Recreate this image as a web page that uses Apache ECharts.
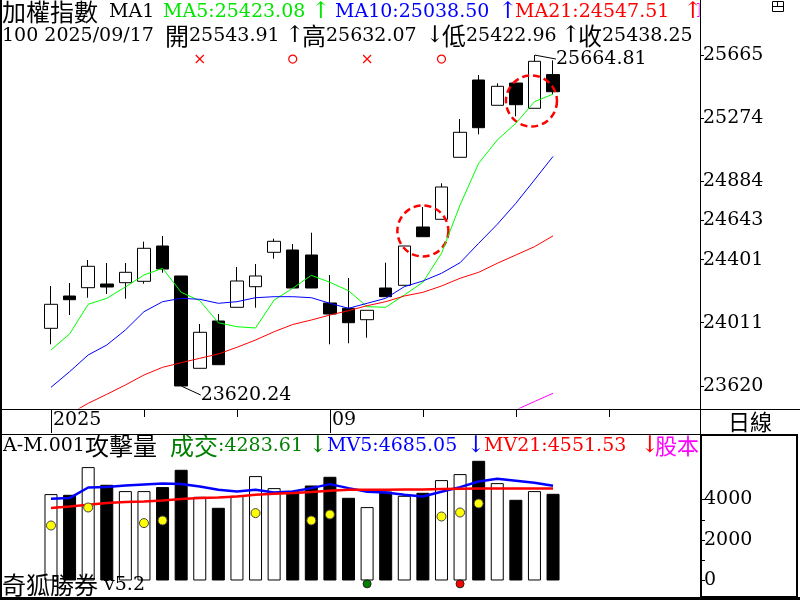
<!DOCTYPE html>
<html>
<head>
<meta charset="utf-8">
<title>加權指數 日線</title>
<script src="https://cdn.jsdelivr.net/npm/echarts@6/dist/echarts.min.js"></script>
<style>
html, body { margin: 0; padding: 0; background: #fff; }
#chart { width: 800px; height: 600px; }
</style>
</head>
<body>
<div id="chart"></div>
<script>
// trading days shown, plus empty slots to the right
const dates = ['2025/08/11','2025/08/12','2025/08/13','2025/08/14','2025/08/15','2025/08/18','2025/08/19',
  '2025/08/20','2025/08/21','2025/08/22','2025/08/25','2025/08/26','2025/08/27','2025/08/28','2025/08/29',
  '2025/09/01','2025/09/02','2025/09/03','2025/09/04','2025/09/05','2025/09/08','2025/09/09','2025/09/10',
  '2025/09/11','2025/09/12','2025/09/15','2025/09/16','2025/09/17']
const futureDates = ['2025/09/18','2025/09/19','2025/09/22','2025/09/23','2025/09/24','2025/09/25','2025/09/26']

// [open, close, low, high]
const ohlc = [
  [23976.5, 24124.8, 23877.7, 24238.0],
  [24176.1, 24153.2, 24058.7, 24256.4],
  [24227.4, 24359.6, 24165.6, 24398.5],
  [24250.2, 24231.7, 24188.5, 24380.0],
  [24258.3, 24322.5, 24159.4, 24380.0],
  [24266.9, 24470.8, 24252.1, 24511.6],
  [24485.0, 24342.9, 24320.0, 24546.8],
  [24299.7, 23620.24, 23620.24, 24299.7],
  [23729.4, 23951.8, 23729.4, 24003.1],
  [24021.7, 23751.7, 23751.7, 24064.9],
  [24106.3, 24268.8, 24106.3, 24355.3],
  [24233.6, 24299.7, 24103.8, 24373.8],
  [24446.1, 24514.0, 24406.5, 24530.1],
  [24460.3, 24225.5, 24225.5, 24497.4],
  [24429.4, 24225.5, 24225.5, 24567.2],
  [24132.9, 24064.9, 23877.7, 24305.8],
  [24100.1, 24011.1, 23883.9, 24287.3],
  [24029.7, 24087.8, 23918.5, 24087.8],
  [24225.5, 24171.8, 24171.8, 24381.8],
  [24242.2, 24485.0, 24242.2, 24485.0],
  [24602.4, 24542.5, 24542.5, 24725.9],
  [24650.0, 24849.5, 24650.0, 24872.4],
  [25033.0, 25187.4, 25033.0, 25269.6],
  [25510.5, 25215.9, 25175.1, 25541.4],
  [25354.2, 25471.6, 25354.2, 25490.2],
  [25492.0, 25358.0, 25286.3, 25492.0],
  [25335.7, 25626.1, 25335.7, 25664.81],
  [25543.91, 25438.25, 25422.96, 25632.07]
]

const ma5 = [23842.5, 23941.3, 24124.8, 24161.9, 24231.7, 24305.8, 24347.2, 24199.0, 24147.1, 24011.1,
  23986.4, 23978.4, 24151.4, 24223.7, 24304.0, 24260.7, 24208.9, 24110.0, 24106.3, 24182.3,
  24260.7, 24439.9, 24738.3, 24995.9, 25139.9, 25243.0, 25376.5, 25423.08]
const ma10 = [23612.0, 23708.4, 23811.6, 23873.4, 23966.0, 24079.1, 24140.9, 24161.9, 24155.7, 24131.0,
  24140.9, 24165.6, 24171.8, 24171.8, 24165.6, 24131.0, 24100.1, 24131.0, 24161.9, 24233.6,
  24268.8, 24316.3, 24381.8, 24501.7, 24619.1, 24748.8, 24892.7, 25038.50]
const ma21 = [23379.0, 23447.0, 23513.2, 23568.8, 23626.3, 23688.0, 23735.6, 23764.0, 23791.2, 23817.8,
  23859.2, 23904.3, 23955.5, 24000.0, 24027.8, 24058.7, 24085.3, 24116.2, 24140.9, 24176.1,
  24199.0, 24237.9, 24285.5, 24322.5, 24378.1, 24429.4, 24480.7, 24547.51]
const maLong = [null, null, null, null, null, null, null, null, null, null, null, null, null, null,
  null, null, null, null, null, null, null, null, null, null, 23419, 23472, 23524, 23575]

const priceTicks = [23620, 24011, 24401, 24643, 24884, 25274, 25665]

// signal marks above the candles
const signalX = [8, 17]
const signalO = [13, 21]
const signalLevel = 25640
// dashed circles: [index, price]
const circleMarks = [[20, 24578], [26, 25381]]

// volume panel
const vol = [4269, 4234, 5603, 4729, 4417, 4417, 4615, 5470, 4136, 3592, 4185, 5158, 4565, 4417,
  4694, 5124, 4086, 3627, 4397, 4185, 4333, 4961, 5257, 5914, 4812, 3987, 4417, 4283.61]
const mv5 = [4037, 4071, 4595, 4615, 4694, 4743, 4793, 4763, 4645, 4482, 4397, 4482, 4348, 4397,
  4565, 4763, 4565, 4383, 4348, 4234, 4150, 4383, 4615, 4892, 5025, 4926, 4827, 4685.05]
const mv21 = [3577, 3656, 3740, 3824, 3874, 3903, 3953, 4022, 4071, 4101, 4150, 4234, 4284, 4318,
  4368, 4432, 4482, 4485, 4490, 4495, 4500, 4516, 4531, 4541, 4546, 4548, 4550, 4551.53]
const yellowIdx = [0, 2, 5, 6, 11, 14, 15, 21, 22, 23]
const yellowVal = [2718, 3607, 2836, 2965, 3330, 2965, 3261, 3162, 3360, 3805]
const greenDotIdx = [17]
const redDotIdx = [22]
const dotLevel = -165
const volTicks = [0, 1000, 2000, 3000, 4000]
const volLabels = [0, 2000, 4000]

const SERIF = 'DejaVu Serif'
const CJK = 'Noto Sans CJK TC'
const categories = dates.concat(futureDates)
const last = ohlc.length - 1
const f2 = v => v.toFixed(2)

let hiIdx = 0, loIdx = 0
for (let i = 0; i < ohlc.length; i++) {
  if (ohlc[i][3] > ohlc[hiIdx][3]) hiIdx = i
  if (ohlc[i][2] < ohlc[loIdx][2]) loIdx = i
}

const isMonthStart = (index) => index === 0 ||
  (index < dates.length && dates[index].slice(5, 7) !== dates[index - 1].slice(5, 7))

function txt(x, y, s, color, cjkSize, size) {
  return {
    left: x, top: y, padding: 0, text: s,
    textStyle: {
      fontFamily: SERIF, fontSize: size || 19, fontWeight: 'normal', color: color, lineHeight: 24,
      rich: { c: { fontFamily: CJK, fontSize: cjkSize || 24, lineHeight: 24, color: color } }
    }
  }
}
// arrows are drawn a little taller than the digits
const arrow = (x, y, s, color) => txt(x, y, s, color, 24, 23)

const GREEN = '#00e600', BLUE = '#0000ff', RED = '#ff0000', MAG = '#ff00ff'
const o = ohlc[last]
const titles = [
  txt(2, 0, '{c|加權指數}', '#000'),
  txt(109, 0, 'MA1', '#000'),
  txt(163, 0, 'MA5:' + f2(ma5[last]), GREEN),
  arrow(311, 0, '↑', GREEN),
  txt(335, 0, 'MA10:' + f2(ma10[last]), BLUE),
  arrow(498, 0, '↑', BLUE),
  txt(515, 0, 'MA21:' + f2(ma21[last]), RED),
  arrow(683, 0, '↑', RED),
  txt(696, 0, 'M', MAG),
  txt(2, 24, '100 ' + dates[last], '#000'),
  txt(165, 24, '{c|開}' + f2(o[0]), '#000'),
  arrow(285, 24, '↑', '#000'),
  txt(302, 24, '{c|高}' + f2(o[3]), '#000'),
  arrow(425, 24, '↓', '#000'),
  txt(442, 24, '{c|低}' + f2(o[2]), '#000'),
  arrow(561, 24, '↑', '#000'),
  txt(578, 24, '{c|收}' + f2(o[1]), '#000'),
  txt(3, 434, 'A-M.001{c|攻擊量}', '#000'),
  txt(170, 434, '{c|成交}:' + f2(vol[last]), '#008000'),
  arrow(308, 434, '↓', '#008000'),
  txt(327, 434, 'MV5:' + f2(mv5[last]), BLUE),
  arrow(466, 434, '↓', BLUE),
  txt(484, 434, 'MV21:' + f2(mv21[last]), RED),
  arrow(640, 434, '↓', RED),
  txt(655, 434, '{c|股本}', MAG, 22),
  txt(2, 573, '{c|奇狐勝券} v5.2', '#000')
]

const lineSeries = (data, color, width, xi, yi) => ({
  type: 'line', xAxisIndex: xi, yAxisIndex: yi, data: data, symbol: 'none', silent: true,
  lineStyle: { color: color, width: width }, itemStyle: { color: color }
})

const option = {
  animation: false,
  backgroundColor: '#fff',
  title: titles,
  grid: [
    { left: 41.7, right: 107.5, top: 0, height: 408 },
    { left: 41.7, right: 107.5, top: 409, height: 24 },
    { left: 41.7, right: 107.5, top: 435, height: 162 }
  ],
  xAxis: [
    { type: 'category', gridIndex: 0, data: categories, show: false },
    {
      type: 'category', gridIndex: 1, data: categories, position: 'bottom',
      axisLine: { show: false },
      axisTick: { show: true, inside: true, length: 24, alignWithLabel: true, interval: isMonthStart,
        lineStyle: { color: '#000', width: 1 } },
      axisLabel: {
        show: true, inside: true, interval: isMonthStart, align: 'left', verticalAlign: 'bottom',
        margin: 3, padding: [0, 0, 0, 2], color: '#000', fontFamily: SERIF, fontSize: 19,
        formatter: (v, i) => i === 0 ? v.slice(0, 4) : v.slice(5, 7)
      }
    },
    {
      type: 'category', gridIndex: 1, data: categories, position: 'top',
      axisLine: { show: false }, axisLabel: { show: false },
      axisTick: { show: true, inside: true, length: 8, alignWithLabel: true, interval: (i) => i % 5 === 0,
        lineStyle: { color: '#000', width: 1 } }
    },
    { type: 'category', gridIndex: 2, data: categories, show: false }
  ],
  yAxis: [
    {
      type: 'value', gridIndex: 0, position: 'right', offset: 7.5, min: 23484.2, max: 26004.8,
      axisLine: { show: false }, splitLine: { show: false },
      axisTick: { show: true, customValues: priceTicks, length: 4, lineStyle: { color: '#000' } },
      axisLabel: { customValues: priceTicks, margin: 3, color: '#000', fontFamily: SERIF, fontSize: 19,
        formatter: v => String(Math.round(v)) }
    },
    {
      type: 'value', gridIndex: 2, position: 'right', offset: 8.5, min: -815.3, max: 7189.2,
      axisLine: { show: false }, splitLine: { show: false },
      axisTick: { show: true, customValues: volTicks, length: 4, lineStyle: { color: '#000' } },
      axisLabel: { customValues: volLabels, margin: 3, color: '#000', fontFamily: SERIF, fontSize: 19,
        formatter: v => String(Math.round(v)) }
    },
    { type: 'value', gridIndex: 1, show: false }
  ],
  series: [
    {
      type: 'candlestick', xAxisIndex: 0, yAxisIndex: 0, data: ohlc, barWidth: 13, silent: true,
      itemStyle: { color: '#fff', color0: '#000', borderColor: '#000', borderColor0: '#000', borderWidth: 1 }
    },
    lineSeries(ma5, '#00ff00', 1, 0, 0),
    lineSeries(ma10, BLUE, 1, 0, 0),
    lineSeries(ma21, RED, 1, 0, 0),
    lineSeries(maLong, MAG, 1, 0, 0),
    {
      type: 'scatter', xAxisIndex: 0, yAxisIndex: 0, silent: true,
      data: signalX.map(i => [i, signalLevel]),
      symbol: 'path://M0 0L10 10M10 0L0 10', symbolSize: 8,
      itemStyle: { color: 'rgba(0,0,0,0)', borderColor: RED, borderWidth: 1.2, opacity: 1 }
    },
    {
      type: 'scatter', xAxisIndex: 0, yAxisIndex: 0, silent: true,
      data: signalO.map(i => [i, signalLevel]),
      symbol: 'circle', symbolSize: 8,
      itemStyle: { color: 'rgba(0,0,0,0)', borderColor: RED, borderWidth: 1.2, opacity: 1 }
    },
    {
      type: 'scatter', xAxisIndex: 0, yAxisIndex: 0, silent: true,
      data: circleMarks.map((c, k) => ({ value: c, symbolOffset: k === 1 ? [-3, 0] : [0, 0] })),
      symbol: 'circle', symbolSize: 51,
      itemStyle: { color: 'rgba(0,0,0,0)', borderColor: RED, borderWidth: 2.5, borderType: [7, 4], opacity: 1 }
    },
    {
      type: 'scatter', xAxisIndex: 0, yAxisIndex: 0, silent: true, z: 5,
      data: [[hiIdx, ohlc[hiIdx][3]], [loIdx, ohlc[loIdx][2]]],
      symbol: 'circle', symbolSize: 1, itemStyle: { color: 'rgba(0,0,0,0)', opacity: 1 },
      label: {
        show: true, position: 'right', distance: 0, color: '#000', opacity: 1,
        fontFamily: SERIF, fontSize: 19, textBorderWidth: 0,
        formatter: p => f2(p.value[1])
      },
      labelLine: { show: true, lineStyle: { color: '#000', width: 1, opacity: 1 } },
      labelLayout: p => p.dataIndex === 0 ? { dx: 21, dy: 4 } : { dx: 19, dy: 9 }
    },
    {
      type: 'bar', xAxisIndex: 3, yAxisIndex: 1, barWidth: 13, silent: true,
      data: vol.map((v, i) => ({
        value: v,
        itemStyle: ohlc[i][1] >= ohlc[i][0]
          ? { color: '#fff', borderColor: '#000', borderWidth: 1 }
          : { color: '#000', borderColor: '#000', borderWidth: 1 }
      }))
    },
    lineSeries(mv5, BLUE, 2.5, 3, 1),
    lineSeries(mv21, RED, 2.5, 3, 1),
    {
      type: 'scatter', xAxisIndex: 3, yAxisIndex: 1, silent: true, z: 4,
      data: yellowIdx.map((i, k) => [i, yellowVal[k]]),
      symbol: 'circle', symbolSize: 9,
      itemStyle: { color: '#ffff00', borderColor: '#444', borderWidth: 1, opacity: 1 }
    },
    {
      type: 'scatter', xAxisIndex: 3, yAxisIndex: 1, silent: true, z: 4,
      data: greenDotIdx.map(i => [i, dotLevel]),
      symbol: 'circle', symbolSize: 8,
      itemStyle: { color: '#008000', borderColor: '#222', borderWidth: 1, opacity: 1 }
    },
    {
      type: 'scatter', xAxisIndex: 3, yAxisIndex: 1, silent: true, z: 4,
      data: redDotIdx.map(i => [i, dotLevel]),
      symbol: 'circle', symbolSize: 8,
      itemStyle: { color: '#ff0000', borderColor: '#222', borderWidth: 1, opacity: 1 }
    }
  ],
  graphic: [
    { type: 'rect', z: 100, shape: { x: 699.5, y: 0, width: 101, height: 26 }, style: { fill: '#fff' } },
    { type: 'rect', z: 100, shape: { x: 700, y: 436, width: 96, height: 24 }, style: { fill: '#fff' } },
    { type: 'rect', z: 101, shape: { x: 0, y: 0, width: 2, height: 600 }, style: { fill: '#000' } },
    { type: 'line', z: 101, shape: { x1: 0, y1: 409.5, x2: 800, y2: 409.5 }, style: { stroke: '#000', lineWidth: 1 } },
    { type: 'line', z: 101, shape: { x1: 0, y1: 434.5, x2: 700, y2: 434.5 }, style: { stroke: '#000', lineWidth: 1 } },
    { type: 'line', z: 101, shape: { x1: 700.5, y1: 0, x2: 700.5, y2: 435 }, style: { stroke: '#000', lineWidth: 1 } },
    { type: 'rect', z: 101, shape: { x: 701, y: 435, width: 96, height: 162 }, style: { fill: 'none', stroke: '#000', lineWidth: 2 } },
    { type: 'rect', z: 101, shape: { x: 0, y: 597, width: 800, height: 3 }, style: { fill: '#000' } },
    { type: 'text', z: 101, x: 750, y: 422, style: { text: '日線', fontFamily: CJK, fontSize: 22, fill: '#000', align: 'center', verticalAlign: 'middle' } },
    { type: 'rect', z: 102, shape: { x: 772.5, y: 1.5, width: 11, height: 10 }, style: { fill: 'none', stroke: '#000', lineWidth: 1 } },
    { type: 'line', z: 102, shape: { x1: 772.5, y1: 6.5, x2: 783.5, y2: 6.5 }, style: { stroke: '#000', lineWidth: 1 } },
    { type: 'line', z: 102, shape: { x1: 777.5, y1: 1.5, x2: 777.5, y2: 6.5 }, style: { stroke: '#000', lineWidth: 1 } }
  ]
}

const myChart = echarts.init(document.getElementById('chart'))
myChart.setOption(option)
</script>
</body>
</html>
